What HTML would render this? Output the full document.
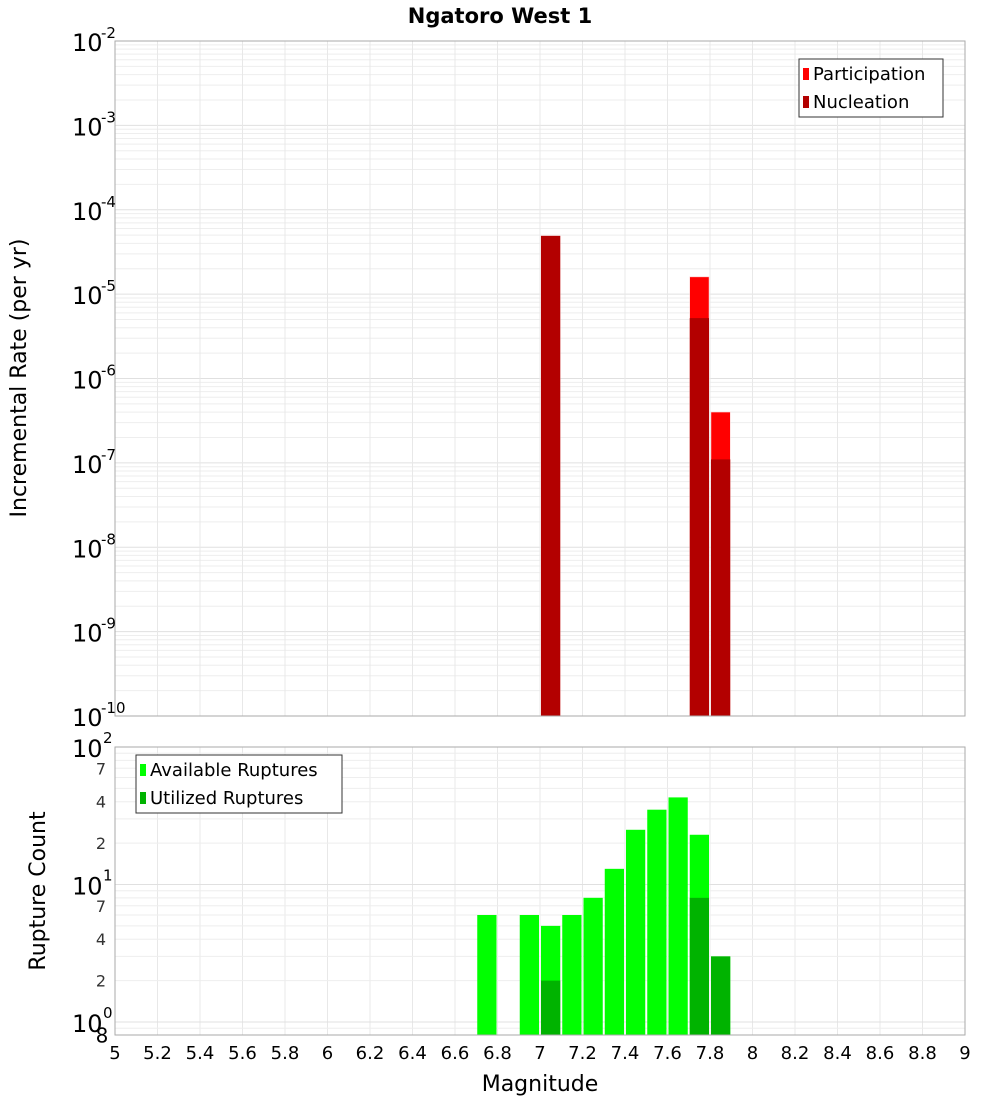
<!DOCTYPE html>
<html><head><meta charset="utf-8"><style>
body{margin:0;background:#fff;}
svg{display:block;font-family:"DejaVu Sans","Liberation Sans",sans-serif;}
</style></head><body>
<svg id="c" width="1000" height="1100" xmlns="http://www.w3.org/2000/svg"></svg>
<script>
const magBins=[6.75,6.85,6.95,7.05,7.15,7.25,7.35,7.45,7.55,7.65,7.75,7.85];
const topBins=[7.05,7.75,7.85];
const participation=[4.9e-5,1.6e-5,4.0e-7];
const nucleation=[4.9e-5,5.2e-6,1.1e-7];
const available=[6,0,6,5,6,8,13,25,35,43,23,3];
const utilized=[0,0,0,2,0,0,0,0,0,0,8,3];
const xTicks=["5","5.2","5.4","5.6","5.8","6","6.2","6.4","6.6","6.8","7","7.2","7.4","7.6","7.8","8","8.2","8.4","8.6","8.8","9"];
const topExps=[-2,-3,-4,-5,-6,-7,-8,-9,-10];
const botMinor=[7,4,2];

const svg=document.getElementById('c');
const NS='http://www.w3.org/2000/svg';
function mk(tag,attrs,parent){const e=document.createElementNS(NS,tag);for(const k in attrs)e.setAttribute(k,attrs[k]);(parent||svg).appendChild(e);return e;}
const X0=115,X1=965;
const x=m=>X0+(m-5)/4*(X1-X0);
const T0=41,T1=716;
const yT=v=>T0+(-2-Math.log10(v))/8*(T1-T0);
const B0=747,B1=1035,DEC=137.5;
const yB=v=>B0+(2-Math.log10(v))*DEC;

let t=mk('text',{x:500,y:23,'text-anchor':'middle','font-size':21,'font-weight':'bold'});
t.textContent='Ngatoro West 1';



let g=mk('g',{});


for(let e=-10;e<-2;e++){for(let k=1;k<10;k++){const v=k*Math.pow(10,e);const yy=yT(v);mk('line',{x1:X0,x2:X1,y1:yy,y2:yy,stroke:k==1?'#e0e0e0':'#eeeeee','stroke-width':1},g);}}
for(let i=0;i<xTicks.length;i++){const xx=x(+xTicks[i]);mk('line',{x1:xx,x2:xx,y1:T0,y2:T1,stroke:'#e8e8e8'},g);mk('line',{x1:xx,x2:xx,y1:B0,y2:B1,stroke:'#e8e8e8'},g);}
let g2=mk('g',{});


for(let e=-1;e<2;e++){for(let k=1;k<10;k++){const v=k*Math.pow(10,e);const yy=yB(v);if(yy>B1||yy<B0)continue;mk('line',{x1:X0,x2:X1,y1:yy,y2:yy,stroke:k==1?'#e0e0e0':'#eeeeee'},g2);}}

const bw=(X1-X0)/40;
topBins.forEach((m,i)=>{
 let r=mk('rect',{x:x(m)-bw/2+1,y:yT(participation[i]),width:bw-2,height:T1-yT(participation[i]),fill:'#ff0000',stroke:'#ffcccc','stroke-width':0.5});
 
 
 let n=mk('rect',{x:x(m)-bw/2+1,y:yT(nucleation[i]),width:bw-2,height:T1-yT(nucleation[i]),fill:'#b30000'});
 
 
});
magBins.forEach((m,i)=>{
 if(available[i]>0){let r=mk('rect',{x:x(m)-bw/2+1,y:yB(available[i]),width:bw-2,height:B1-yB(available[i]),fill:'#00ff00'});
 
 }
 if(utilized[i]>0){let n=mk('rect',{x:x(m)-bw/2+1,y:yB(utilized[i]),width:bw-2,height:B1-yB(utilized[i]),fill:'#00b300'});
 
 }
});
let f1=mk('rect',{x:X0,y:T0,width:X1-X0,height:T1-T0,fill:'none',stroke:'#aaaaaa'});


let f2=mk('rect',{x:X0,y:B0,width:X1-X0,height:B1-B0,fill:'none',stroke:'#aaaaaa'});



topExps.forEach(e=>{
 const yy=yT(Math.pow(10,e));
 let tx=mk('text',{x:72,y:yy+10,'font-size':24});
 tx.textContent='10';
 
 
 let s=mk('text',{x:101,y:yy-3,'font-size':15});
 s.textContent=String(e);
 
 
});
[2,1,0].forEach(e=>{
 const yy=yB(Math.pow(10,e));
 let tx=mk('text',{x:72,y:yy+10,'font-size':24});
 tx.textContent='10';
 
 
 let s=mk('text',{x:103,y:yy-4,'font-size':15});
 s.textContent=String(e);
 
 
});
[1,0].forEach(e=>{botMinor.forEach(k=>{
 const yy=yB(k*Math.pow(10,e));
 let tx=mk('text',{x:106,y:yy+6,'font-size':16,'text-anchor':'end',fill:'#333'});
 tx.textContent=String(k);
 
 
});});
let e8=mk('text',{x:102,y:yB(0.8)+7,'font-size':20,'text-anchor':'middle'});
e8.textContent='8';



xTicks.forEach(l=>{
 let tx=mk('text',{x:x(+l),y:1059,'font-size':18,'text-anchor':'middle'});
 tx.textContent=l;
 
 
});
let xt=mk('text',{x:540,y:1091,'font-size':22,'text-anchor':'middle'});
xt.textContent='Magnitude';


let yt1=mk('text',{x:0,y:0,'font-size':22,'text-anchor':'middle',transform:'translate(26,378) rotate(-90)'});
yt1.textContent='Incremental Rate (per yr)';


let yt2=mk('text',{x:0,y:0,'font-size':22,'text-anchor':'middle',transform:'translate(45,891) rotate(-90)'});
yt2.textContent='Rupture Count';



function legend(x0,y0,w,items,name){
 let lg=mk('g',{});
 
 
 mk('rect',{x:x0,y:y0,width:w,height:58,fill:'#fff',stroke:'#333'},lg);
 items.forEach((it,i)=>{
  mk('rect',{x:x0+4,y:y0+9+i*28,width:6,height:12,fill:it[1]},lg);
  let tx=mk('text',{x:x0+14,y:y0+21+i*28,'font-size':18},lg);
  tx.textContent=it[0];
  
  
 });
}
legend(799,59,144,[['Participation','#ff0000'],['Nucleation','#b30000']],'top-legend');
legend(136,755,206,[['Available Ruptures','#00ff00'],['Utilized Ruptures','#00b300']],'bottom-legend');
</script>
</body></html>
